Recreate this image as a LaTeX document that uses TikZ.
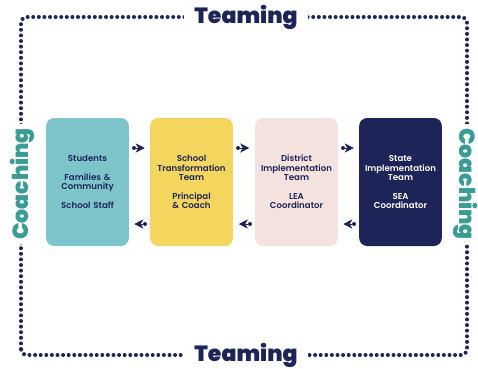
\documentclass[tikz,border=0pt]{standalone}
\usepackage{fontspec}
\setmainfont{Poppins}[BoldFont={Poppins SemiBold}]
\newfontfamily\heavyfont{Poppins Black}
\usetikzlibrary{arrows.meta,calc}
\definecolor{navy}{HTML}{1D2558}
\definecolor{tealbox}{HTML}{7DC5CB}
\definecolor{yellowbox}{HTML}{F4D55E}
\definecolor{pinkbox}{HTML}{F4E2DE}
\definecolor{coachteal}{HTML}{3A9C94}
\begin{document}
\begin{tikzpicture}[x=1pt,y=1pt,
  dotline/.style={draw=navy,line width=4pt,line cap=round,dash pattern=on 0pt off 5.6pt},
  stagebox/.style={rounded corners=8pt,minimum width=79pt,minimum height=128pt,
    align=center,text width=76pt,font=\bfseries\fontsize{8.6}{9.5}\selectfont,text=navy},
  bigword/.style={font=\heavyfont\fontsize{22}{22}\selectfont,fill=white},
  tiparrow/.style={navy,line width=0.8pt,-{Stealth[length=9pt,width=9pt,inset=2.5pt]}},
]
\useasboundingbox (0,0) rectangle (478,368);

% outer dotted frame
\draw[dotline,rounded corners=6pt] (21,13) rectangle (467,351);

% frame labels
\node[bigword,text=navy,inner xsep=10pt,inner ysep=2pt] (teamtop) at (246,351) {Teaming};
\node[bigword,text=navy,inner xsep=10pt,inner ysep=2pt] (teambot) at (246,13) {Teaming};
\node[bigword,text=coachteal,rotate=90,inner xsep=4pt,inner ysep=1pt] (coachl) at (22,184) {Coaching};
\node[bigword,text=coachteal,rotate=-90,inner xsep=4pt,inner ysep=1pt] (coachr) at (466,184) {Coaching};

% stage boxes
\node[stagebox,fill=tealbox] (s1) at (87.5,186) {Students\\[9pt]Families \&\\Community\\[9pt]School Staff};
\node[stagebox,fill=yellowbox] (s2) at (191.5,186) {School\\Transformation\\Team\\[9pt]Principal\\\& Coach};
\node[stagebox,fill=pinkbox] (s3) at (296.5,186) {District\\Implementation\\Team\\[9pt]LEA\\Coordinator};
\node[stagebox,fill=navy,text=white] (s4) at (400.5,186) {State\\Implementation\\Team\\[9pt]SEA\\Coordinator};

% connectors between the stages: dot, arrow tip, dot
\foreach \a/\b in {s1/s2,s2/s3,s3/s4}{
  % forward (upper)
  \coordinate (fa) at ($([yshift=34pt]\a.east)+(5pt,0)$);
  \coordinate (fb) at ($([yshift=34pt]\b.west)+(-3.5pt,0)$);
  \draw[dotline,dash pattern=on 0pt off 16.5pt] (fa) -- (fb);
  \draw[tiparrow] ($(fa)!0.5!(fb)+(-4.5pt,0)$) -- ($(fa)!0.5!(fb)+(4.5pt,0)$);
  % backward (lower)
  \coordinate (ba) at ($([yshift=-42pt]\b.west)+(-5pt,0)$);
  \coordinate (bb) at ($([yshift=-42pt]\a.east)+(3.5pt,0)$);
  \draw[dotline,dash pattern=on 0pt off 16.5pt] (ba) -- (bb);
  \draw[tiparrow] ($(ba)!0.5!(bb)+(4.5pt,0)$) -- ($(ba)!0.5!(bb)+(-4.5pt,0)$);
}
\end{tikzpicture}
\end{document}
